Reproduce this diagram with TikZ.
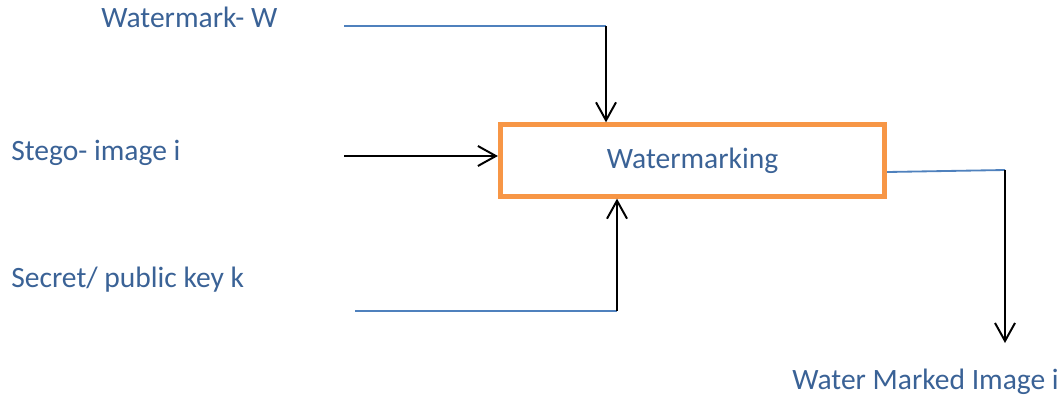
\documentclass[tikz,border=0pt]{standalone}
\usepackage{fontspec}
\setmainfont{Carlito}
\usetikzlibrary{arrows.meta}
\definecolor{txtblue}{RGB}{58,98,150}
\definecolor{lineblue}{RGB}{79,129,189}
\definecolor{boxorange}{RGB}{247,150,70}
\tikzstyle{lbl} = [font=\fontsize{21}{25}\selectfont, text=txtblue, inner sep=0pt]
\tikzstyle{block} = [draw=boxorange, line width=3.6pt, minimum width=9.6cm, minimum height=1.78cm, font=\fontsize{21}{25}\selectfont, text=txtblue]
\tikzstyle{feed} = [draw=lineblue, line width=1.3pt]
\tikzstyle{flow} = [draw=black, line width=1.4pt, -{Straight Barb[length=0.45cm, width=0.5cm, line width=1.4pt]}]

\begin{document}
\begin{tikzpicture}[x=0.025cm, y=-0.025cm]
		\useasboundingbox (0,0) rectangle (1062,396);
		% the block in the middle
		\node[block] (wmk) at (692.5,160.5) {Watermarking};
		% inputs and output texts
		\node[lbl, anchor=base west] (wtext) at (101,27) {Watermark- W};
		\node[lbl, anchor=base west] (stext) at (11,160) {Stego- image i};
		\node[lbl, anchor=base west] (ktext) at (11,287) {Secret/ public key k};
		\node[lbl, anchor=base west] (otext) at (792,389) {Water Marked Image i};
		% line ends
		\coordinate (wstart) at (344,26);
		\coordinate (wbend) at (606,26);
		\coordinate (sstart) at (344,156);
		\coordinate (kstart) at (355,311);
		\coordinate (kbend) at (617,311);
		\coordinate (obend) at (1005,170);
		\coordinate (oend) at (1005,343);
		% watermark in from the top
		\draw[feed] (wstart) -- (wbend);
		\draw[flow] (wbend) -- (wbend |- wmk.north);
		% stego image in from the left
		\draw[flow] (sstart) -- (wmk.west |- sstart);
		% key in from the bottom
		\draw[feed] (kstart) -- (kbend);
		\draw[flow] (kbend) -- (kbend |- wmk.south);
		% result out on the right
		\draw[feed] (wmk.east |- 0,172) -- (obend);
		\draw[flow] (obend) -- (oend);
\end{tikzpicture}
\end{document}
